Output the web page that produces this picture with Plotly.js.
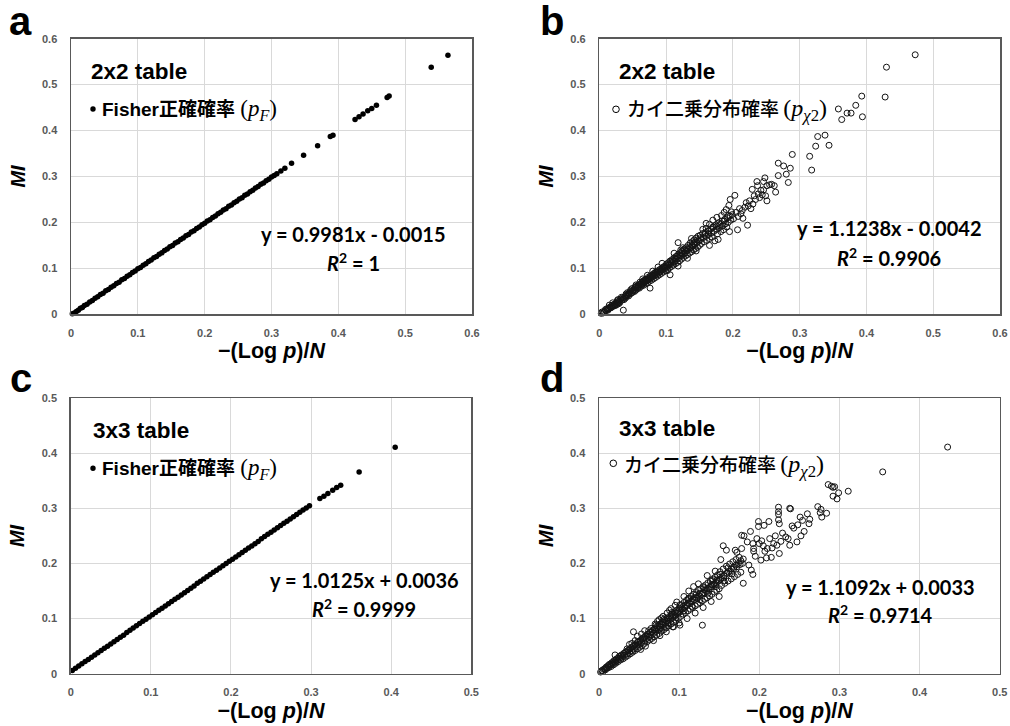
<!DOCTYPE html>
<html><head><meta charset="utf-8">
<script src="https://cdn.plot.ly/plotly-3.0.1.min.js"></script>
<style>html,body{margin:0;padding:0;background:#fff}#chart{width:1010px;height:726px}</style>
</head><body><div id="chart"></div>
<script>
// ---------- data ----------
// Panel a: 2x2 table, Fisher exact probability
const aX = [0.002,0.005,0.008,0.011,0.014,0.017,0.020,
0.024,0.028,0.032,0.036,0.040,0.044,0.048,0.052,0.056,0.060,
0.064,0.068,0.072,0.076,0.080,0.084,0.088,0.092,0.096,0.100,
0.104,0.108,0.112,0.116,0.120,0.124,0.128,0.132,0.136,0.140,
0.144,0.148,0.152,0.156,0.160,0.164,0.168,0.172,0.176,0.180,
0.184,0.188,0.192,0.196,0.200,0.204,0.208,0.212,0.216,0.220,
0.224,0.228,0.232,0.236,0.240,0.244,0.248,0.252,0.256,0.260,
0.264,0.268,0.272,0.276,0.280,0.284,0.288,0.292,0.296,0.300,
0.304,0.308,
0.314,0.320,0.330,0.348,0.369,0.388,0.392,0.425,0.431,0.437,
0.444,0.450,0.457,0.473,0.476,0.539,0.564];
const aY = [0.001,0.003,0.006,0.009,0.013,0.015,0.019,
0.022,0.027,0.030,0.035,0.038,0.043,0.046,0.051,0.054,0.059,
0.062,0.067,0.070,0.075,0.078,0.083,0.086,0.091,0.094,0.099,
0.102,0.107,0.110,0.115,0.118,0.123,0.126,0.131,0.134,0.139,
0.142,0.147,0.150,0.155,0.158,0.163,0.166,0.171,0.174,0.179,
0.182,0.187,0.190,0.195,0.198,0.203,0.206,0.211,0.214,0.219,
0.222,0.227,0.230,0.235,0.238,0.243,0.246,0.251,0.254,0.259,
0.262,0.267,0.270,0.275,0.278,0.283,0.286,0.291,0.294,0.299,
0.302,0.306,
0.312,0.318,0.329,0.346,0.367,0.387,0.390,0.424,0.430,0.436,
0.443,0.448,0.455,0.472,0.475,0.538,0.564];

// Panel b: 2x2 table, chi-square probability
const bX = [0.003,0.006,0.008,0.010,0.012,0.013,0.015,0.016,0.018,0.019,
0.021,0.022,0.023,0.025,0.026,0.027,0.028,0.030,0.031,0.032,
0.015,0.020,0.028,0.036,
0.034,0.035,0.036,0.038,0.039,0.040,0.041,0.043,0.044,0.045,
0.046,0.047,0.048,0.050,0.050,0.052,0.053,0.054,0.055,0.056,
0.057,0.058,0.059,0.060,0.060,0.042,0.049,0.055,
0.062,0.063,0.064,0.065,0.066,0.067,0.068,0.069,0.070,0.071,
0.072,0.073,0.074,0.075,0.076,0.076,0.077,0.078,0.079,0.080,
0.081,0.082,0.083,0.084,0.085,0.086,0.087,0.088,0.089,0.090,
0.091,0.092,0.093,0.094,0.095,0.096,0.097,0.098,0.099,0.100,
0.065,0.072,0.080,0.088,0.094,
0.101,0.102,0.103,0.104,0.105,0.106,0.106,0.107,0.108,0.109,
0.110,0.111,0.112,0.113,0.114,0.115,0.116,0.117,0.118,0.119,
0.120,0.121,0.122,0.123,0.124,0.125,0.126,0.127,0.128,0.129,
0.130,0.131,0.132,0.133,0.134,0.135,0.136,0.137,0.138,0.139,
0.140,0.141,0.142,0.143,0.144,0.145,0.146,0.147,0.148,0.149,
0.150,0.112,0.125,0.138,0.118,0.132,0.145,0.118,
0.151,0.152,0.153,0.155,0.156,0.157,0.159,0.160,0.161,0.163,
0.164,0.165,0.167,0.168,0.169,0.171,0.172,0.173,0.175,0.176,
0.177,0.176,0.179,0.180,0.182,0.184,0.185,0.186,0.188,0.189,
0.190,0.192,0.193,0.195,0.197,0.196,0.155,0.160,0.165,0.170,
0.183,0.187,0.191,0.178,0.165,
0.199,0.201,0.203,0.196,0.194,0.205,0.207,0.208,0.210,0.212,
0.214,0.215,0.218,0.220,0.222,0.223,0.225,0.227,0.229,0.230,
0.232,0.234,0.236,0.237,0.238,0.240,0.242,0.244,0.246,0.246,
0.248,0.249,0.251,0.251,0.255,0.258,0.262,0.264,0.268,0.268,
0.276,0.280,0.283,0.286,0.289,0.315,0.318,0.327,0.324,0.338,
0.344,0.358,0.363,0.371,0.377,0.384,0.393,0.394,0.428,0.430,
0.473];
const bY = [0.002,0.003,0.006,0.008,0.011,0.009,0.013,0.016,0.015,0.019,
0.018,0.022,0.020,0.024,0.021,0.027,0.025,0.029,0.026,0.033,
0.020,0.025,0.032,0.009,
0.031,0.036,0.034,0.038,0.035,0.041,0.039,0.043,0.040,0.047,
0.044,0.050,0.046,0.052,0.048,0.055,0.050,0.058,0.053,0.061,
0.056,0.063,0.059,0.065,0.057,0.047,0.056,0.064,
0.066,0.061,0.070,0.067,0.063,0.074,0.071,0.066,0.076,0.073,
0.068,0.080,0.077,0.072,0.083,0.057,0.079,0.074,0.086,0.082,
0.077,0.089,0.085,0.080,0.092,0.087,0.083,0.095,0.090,0.086,
0.098,0.094,0.089,0.101,0.097,0.092,0.104,0.100,0.095,0.108,
0.077,0.085,0.094,0.103,0.111,
0.103,0.098,0.112,0.107,0.101,0.086,0.116,0.110,0.104,0.119,
0.113,0.107,0.123,0.116,0.110,0.126,0.120,0.113,0.130,0.123,
0.116,0.134,0.127,0.120,0.138,0.131,0.124,0.142,0.134,0.127,
0.145,0.138,0.130,0.150,0.141,0.133,0.155,0.145,0.136,0.158,
0.149,0.140,0.162,0.152,0.143,0.166,0.156,0.146,0.170,0.159,
0.150,0.133,0.145,0.165,0.105,0.122,0.138,0.156,
0.172,0.163,0.154,0.176,0.167,0.158,0.178,0.170,0.161,0.182,
0.174,0.165,0.186,0.177,0.168,0.190,0.181,0.160,0.195,0.185,
0.175,0.211,0.199,0.189,0.180,0.203,0.193,0.184,0.207,0.197,
0.228,0.210,0.200,0.180,0.205,0.214,0.185,0.198,0.196,0.205,
0.215,0.222,0.190,0.163,0.150,
0.217,0.208,0.259,0.250,0.237,0.222,0.184,0.213,0.230,0.219,
0.226,0.209,0.233,0.243,0.194,0.236,0.247,0.230,0.272,0.240,
0.258,0.250,0.289,0.280,0.262,0.254,0.270,0.260,0.289,0.271,
0.297,0.258,0.247,0.280,0.282,0.283,0.280,0.266,0.302,0.329,
0.323,0.305,0.287,0.318,0.348,0.344,0.314,0.387,0.366,0.390,
0.368,0.447,0.424,0.438,0.438,0.455,0.475,0.430,0.473,0.538,
0.565];
// Panel b: additional points in the dense band
const bDenseX = [0.004,0.007,0.009,0.011,0.014,0.017,0.020,0.024,0.027,0.029,
0.033,0.037,0.040,0.044,0.047,0.051,0.054,0.058,0.061,0.064,
0.067,0.070,0.073,0.075,0.078,0.081,0.084,0.087,0.090,0.093,
0.096,0.099,0.103,0.107,0.110,0.114,0.117,0.121,0.124,0.128,
0.131,0.135,0.139,0.143,0.147,0.152,0.158,0.164,0.170,0.176,
0.181,0.187,0.193,0.198,0.066,0.084,0.102,0.122,0.141,0.160];
const bDenseY = [0.005,0.004,0.010,0.012,0.012,0.014,0.017,0.019,0.030,0.023,
0.037,0.032,0.044,0.045,0.053,0.051,0.060,0.060,0.070,0.064,
0.069,0.072,0.075,0.079,0.080,0.085,0.087,0.092,0.093,0.097,
0.102,0.104,0.108,0.114,0.117,0.121,0.127,0.129,0.133,0.139,
0.142,0.147,0.150,0.157,0.162,0.167,0.175,0.181,0.190,0.192,
0.196,0.203,0.215,0.223,0.072,0.091,0.095,0.140,0.153,0.187];

// Panel c: 3x3 table, Fisher exact probability
const cX = [0.002,0.006,0.010,0.014,0.018,0.022,0.026,0.030,0.034,0.038,
0.042,0.046,0.050,0.054,0.058,0.062,0.066,0.070,0.074,0.078,
0.082,0.086,0.090,0.094,0.098,0.102,0.106,0.110,0.114,0.118,
0.122,0.126,0.130,0.134,0.138,0.142,0.146,0.150,0.154,0.158,
0.162,0.166,0.170,0.174,0.178,0.182,0.186,0.190,0.194,0.198,
0.202,0.206,0.210,0.214,0.218,0.222,0.226,0.230,0.234,0.238,
0.242,0.246,0.250,0.254,0.258,0.262,0.266,0.270,0.274,0.278,
0.282,0.286,0.290,0.294,0.298,
0.311,0.316,0.321,0.327,0.332,0.337,0.360,0.405];
const cY = [0.006,0.010,0.014,0.018,0.022,0.026,0.030,0.034,0.038,0.042,
0.046,0.050,0.054,0.058,0.062,0.066,0.070,0.075,0.079,0.083,
0.087,0.091,0.095,0.099,0.103,0.107,0.111,0.115,0.119,0.123,
0.127,0.131,0.135,0.139,0.143,0.147,0.151,0.155,0.159,0.164,
0.168,0.172,0.176,0.180,0.184,0.188,0.192,0.196,0.200,0.204,
0.208,0.212,0.216,0.220,0.224,0.228,0.232,0.236,0.240,0.245,
0.249,0.253,0.257,0.261,0.265,0.269,0.273,0.277,0.281,0.285,
0.289,0.293,0.297,0.301,0.305,
0.318,0.322,0.327,0.333,0.338,0.342,0.366,0.411];

// Panel d: 3x3 table, chi-square probability
const dX = [0.002,0.004,0.005,0.007,0.008,0.009,0.010,0.011,0.012,0.013,
0.014,0.015,0.016,0.017,0.018,0.019,0.020,0.021,0.022,0.023,
0.024,0.025,0.026,0.027,0.028,0.029,0.030,0.020,
0.031,0.032,0.033,0.034,0.035,0.036,0.037,0.038,0.039,0.040,
0.041,0.042,0.043,0.044,0.045,0.046,0.047,0.048,0.049,0.050,
0.051,0.052,0.053,0.054,0.055,0.056,0.057,0.058,0.059,0.060,
0.043,0.048,0.053,0.057,0.038,0.045,0.052,0.058,0.035,0.041,
0.061,0.062,0.063,0.064,0.065,0.066,0.067,0.068,0.069,0.070,
0.071,0.072,0.073,0.074,0.075,0.076,0.077,0.078,0.079,0.080,
0.081,0.082,0.083,0.084,0.085,0.086,0.087,0.088,0.089,0.090,
0.091,0.092,0.093,0.094,0.095,0.096,0.097,0.098,0.099,0.100,
0.065,0.070,0.075,0.080,0.085,0.090,0.095,0.068,0.076,0.084,
0.092,0.100,0.062,0.078,0.088,0.097,0.073,0.083,0.093,0.101,
0.101,0.102,0.103,0.104,0.105,0.106,0.107,0.108,0.109,0.110,
0.111,0.112,0.113,0.114,0.115,0.116,0.117,0.118,0.119,0.120,
0.121,0.122,0.123,0.124,0.125,0.126,0.127,0.128,0.129,0.130,
0.131,0.132,0.133,0.134,0.135,0.136,0.137,0.138,0.139,0.140,
0.141,0.142,0.143,0.144,0.145,0.146,0.147,0.148,0.149,0.150,
0.129,0.106,0.112,0.118,0.124,0.110,0.120,0.130,0.140,0.150,
0.135,0.145,
0.151,0.152,0.153,0.155,0.156,0.157,0.159,0.160,0.161,0.163,
0.164,0.165,0.167,0.168,0.169,0.171,0.172,0.173,0.175,0.176,
0.177,0.155,0.159,0.152,0.170,0.172,0.178,0.179,0.180,0.178,
0.181,0.185,0.187,0.189,0.190,0.192,0.192,0.193,0.193,0.195,
0.197,0.199,0.199,0.200,0.202,
0.203,0.205,0.206,0.207,0.209,0.210,0.212,0.213,0.215,0.216,
0.218,0.220,0.222,0.224,0.224,0.224,0.224,0.225,0.225,0.227,
0.229,0.233,0.236,0.238,0.239,0.238,0.241,0.243,0.247,0.248,
0.251,0.252,0.254,0.256,0.260,0.262,0.263,0.273,0.277,0.276,
0.278,0.284,0.286,0.290,0.292,0.294,0.292,0.297,0.299,0.311,
0.354,0.435];
const dY = [0.003,0.006,0.004,0.009,0.007,0.012,0.010,0.014,0.011,0.017,
0.015,0.013,0.020,0.018,0.016,0.024,0.021,0.019,0.027,0.024,
0.022,0.031,0.028,0.025,0.034,0.030,0.027,0.034,
0.037,0.033,0.030,0.040,0.036,0.033,0.043,0.039,0.036,0.047,
0.042,0.039,0.050,0.046,0.042,0.054,0.049,0.045,0.058,0.053,
0.048,0.061,0.056,0.051,0.065,0.060,0.055,0.068,0.063,0.058,
0.076,0.068,0.072,0.078,0.053,0.060,0.044,0.050,0.045,0.055,
0.072,0.066,0.061,0.075,0.070,0.064,0.079,0.073,0.067,0.083,
0.077,0.070,0.086,0.080,0.073,0.090,0.084,0.077,0.094,0.088,
0.080,0.097,0.091,0.083,0.101,0.095,0.087,0.104,0.098,0.090,
0.108,0.102,0.093,0.112,0.105,0.097,0.115,0.109,0.100,0.119,
0.082,0.090,0.098,0.104,0.110,0.118,0.124,0.060,0.069,0.076,
0.085,0.092,0.078,0.101,0.115,0.130,0.095,0.086,0.085,0.088,
0.112,0.104,0.125,0.117,0.108,0.129,0.120,0.111,0.133,0.124,
0.114,0.137,0.127,0.117,0.140,0.131,0.120,0.144,0.134,0.123,
0.147,0.137,0.126,0.151,0.141,0.129,0.154,0.144,0.132,0.158,
0.147,0.135,0.161,0.151,0.138,0.165,0.154,0.141,0.168,0.158,
0.144,0.172,0.161,0.148,0.175,0.165,0.151,0.179,0.168,0.154,
0.088,0.140,0.150,0.158,0.163,0.100,0.110,0.120,0.131,0.140,
0.178,0.186,
0.185,0.172,0.160,0.190,0.177,0.164,0.195,0.182,0.168,0.199,
0.186,0.172,0.203,0.190,0.176,0.207,0.194,0.180,0.211,0.198,
0.184,0.232,0.224,0.207,0.224,0.220,0.227,0.200,0.164,0.251,
0.250,0.239,0.197,0.258,0.188,0.236,0.180,0.227,0.222,0.213,
0.245,0.267,0.276,0.236,0.206,
0.241,0.232,0.269,0.222,0.210,0.227,0.276,0.245,0.211,0.228,
0.236,0.250,0.233,0.302,0.294,0.289,0.279,0.272,0.218,0.240,
0.255,0.248,0.245,0.300,0.299,0.233,0.268,0.264,0.239,0.270,
0.284,0.250,0.278,0.258,0.290,0.272,0.280,0.303,0.298,0.292,
0.284,0.291,0.343,0.340,0.338,0.339,0.322,0.317,0.328,0.331,
0.366,0.411];
// Panel d: additional points in the dense band
const dDenseX = [0.003,0.006,0.009,0.012,0.015,0.018,0.021,0.024,0.027,0.030,
0.033,0.036,0.039,0.042,0.045,0.048,0.051,0.054,0.057,0.060,
0.063,0.066,0.069,0.072,0.075,0.078,0.081,0.084,0.087,0.090,
0.093,0.096,0.099,0.102,0.105,0.108,0.111,0.114,0.117,0.120,
0.123,0.126,0.129,0.132,0.135,0.138,0.141,0.144,0.147,0.150,
0.153,0.156,0.159,0.162,0.165,0.168,0.171,0.174,0.177,0.180,
0.071,0.081,0.091,0.101,0.111,0.121,0.131,0.141,0.151,0.161,
0.076,0.086,0.096,0.106,0.116,0.126,0.136,0.146,0.156,0.166];
const dDenseY = [0.005,0.008,0.010,0.015,0.018,0.022,0.025,0.028,0.032,0.034,
0.039,0.042,0.045,0.049,0.052,0.057,0.059,0.063,0.066,0.071,
0.068,0.076,0.081,0.082,0.086,0.090,0.093,0.096,0.099,0.105,
0.106,0.110,0.113,0.118,0.122,0.124,0.128,0.131,0.136,0.138,
0.140,0.146,0.146,0.152,0.154,0.157,0.161,0.163,0.170,0.170,
0.174,0.178,0.182,0.185,0.190,0.193,0.197,0.200,0.205,0.208,
0.088,0.099,0.111,0.125,0.135,0.143,0.156,0.169,0.180,0.192,
0.081,0.092,0.102,0.114,0.122,0.134,0.146,0.158,0.168,0.181];

const panelLetters = ['a','b','c','d'];
const tableLabels = ['2x2 table','2x2 table','3x3 table','3x3 table'];
const equations = ['y = 0.9981x - 0.0015','y = 1.1238x - 0.0042','y = 1.0125x + 0.0036','y = 1.1092x + 0.0033'];
const r2Values = ['1','0.9906','0.9999','0.9714'];
const axisMax = [0.6,0.6,0.5,0.5];

// ---------- layout helpers ----------
const W = 1010, H = 726;
const px = v => v / W;
const py = v => 1 - v / H;

// plot boxes in pixels: [left, right, top, bottom]
const boxes = [[71,472,38.7,314.3],[599.3,1000,38.7,314.3],[70.7,471.3,398.3,673.7],[599,999.7,398,673.7]];

const fisherText = 'Fisher正確確率 <span style="font-family:Liberation Serif;font-weight:normal;font-size:23px">(<i>p</i><sub><i>F</i></sub>)</span>';
const chiText = '<span style="font-weight:500">カイ二乗分布確率</span> <span style="font-family:Liberation Serif;font-weight:normal;font-size:24px">(<i>p</i><sub><i>χ</i>2</sub>)</span>';

const openMarker = {symbol:'circle-open', size:6, color:'#141414', line:{width:1}};
const traces = [
  {x:aX, y:aY, xaxis:'x', yaxis:'y', type:'scatter', mode:'markers', cliponaxis:false,
   marker:{symbol:'circle', size:5.5, color:'#000'}},
  {x:bX.concat(bDenseX), y:bY.concat(bDenseY), xaxis:'x2', yaxis:'y2', type:'scatter', mode:'markers', cliponaxis:false,
   marker:openMarker},
  {x:cX, y:cY, xaxis:'x3', yaxis:'y3', type:'scatter', mode:'markers', cliponaxis:false,
   marker:{symbol:'circle', size:5.5, color:'#000'}},
  {x:dX.concat(dDenseX), y:dY.concat(dDenseY), xaxis:'x4', yaxis:'y4', type:'scatter', mode:'markers', cliponaxis:false,
   marker:openMarker}
];

const tickFont = {family:'Liberation Sans, Arial, sans-serif', size:11, color:'#595959', weight:'bold'};
const layout = {
  width:W, height:H, margin:{l:0,r:0,t:0,b:0}, showlegend:false,
  paper_bgcolor:'#fff', plot_bgcolor:'#fff',
  font:{family:'Liberation Sans, Arial, sans-serif', color:'#000'},
  annotations:[], shapes:[]
};

const suffix = ['', '2', '3', '4'];
boxes.forEach((b, i) => {
  const s = suffix[i];
  layout['xaxis' + s] = {
    domain:[px(b[0]), px(b[1])], anchor:'y' + s, range:[0, axisMax[i]], dtick:0.1, tick0:0,
    showline:true, mirror:true, linecolor:'#595959', linewidth:1.5,
    showgrid:true, gridcolor:'#d9d9d9', gridwidth:1, zeroline:false, ticks:'',
    tickfont:tickFont, ticklabelstandoff:8, automargin:false,
    title:{text:'−(Log <i>p</i>)/<i>N</i>', standoff:5,
      font:{family:'Liberation Sans, Arial, sans-serif', size:21.5, weight:'bold', color:'#000'}}
  };
  layout['yaxis' + s] = {
    domain:[py(b[3]), py(b[2])], anchor:'x' + s, range:[0, axisMax[i]], dtick:0.1, tick0:0,
    showline:true, mirror:true, linecolor:'#595959', linewidth:1.5,
    showgrid:true, gridcolor:'#d9d9d9', gridwidth:1, zeroline:false, ticks:'',
    tickfont:tickFont, ticklabelstandoff:10, automargin:false,
    title:{text:'<i>MI</i>', standoff:11,
      font:{family:'Liberation Sans, Arial, sans-serif', size:20, weight:'bold', color:'#000'}}
  };
});

// annotation pixel positions
const letterPos = [[20,21],[552,21],[21,378],[552,378]];
const tablePos = [[88.5,71],[616.5,71],[91,431],[616.5,428.3]];
const legendTextPos = [[99.5,110],[624.5,110],[99.5,469],[622,465]];
const legendMarkPos = [[93,109],[616,109.3],[93,468.3],[613.3,463.3]];
const eqPos = [[353,234,262],[889,228.3,256.6],[364,580,608],[880,586.6,614]];

for (let i = 0; i < 4; i++) {
  layout.annotations.push({
    text:panelLetters[i], xref:'paper', yref:'paper', x:px(letterPos[i][0]), y:py(letterPos[i][1]),
    xanchor:'center', yanchor:'middle', showarrow:false,
    font:{family:'Liberation Sans, Arial, sans-serif', size:40, weight:'bold', color:'#000'}
  });
  layout.annotations.push({
    text:tableLabels[i], xref:'paper', yref:'paper', x:px(tablePos[i][0]), y:py(tablePos[i][1]),
    xanchor:'left', yanchor:'middle', showarrow:false,
    font:{family:'Liberation Sans, Arial, sans-serif', size:22.5, weight:'bold', color:'#000'}
  });
  const isFisher = (i % 2 === 0);
  layout.annotations.push({
    text: isFisher ? fisherText : chiText, xref:'paper', yref:'paper',
    x:px(legendTextPos[i][0]), y:py(legendTextPos[i][1]),
    xanchor:'left', yanchor:'middle', showarrow:false,
    font: isFisher
      ? {family:'Liberation Sans, Noto Sans CJK JP, sans-serif', size:19, weight:'bold', color:'#000'}
      : {family:'Noto Sans CJK JP, sans-serif', size:19, weight:'normal', color:'#000'}
  });
  const r = isFisher ? 2.7 : 3.3;
  const m = legendMarkPos[i];
  layout.shapes.push({
    type:'circle', xref:'paper', yref:'paper', x0:px(m[0]-r), x1:px(m[0]+r), y0:py(m[1]+r), y1:py(m[1]-r),
    fillcolor: isFisher ? '#000' : 'rgba(0,0,0,0)', line:{color:'#000', width: isFisher ? 0 : 1}
  });
  layout.annotations.push({
    text:equations[i], xref:'paper', yref:'paper', x:px(eqPos[i][0]), y:py(eqPos[i][1]),
    xanchor:'center', yanchor:'middle', showarrow:false,
    font:{family:'Lato, Liberation Sans, sans-serif', size:20, weight:'bold', color:'#000'}
  });
  layout.annotations.push({
    text:'<i>R</i><sup>2</sup> = ' + r2Values[i], xref:'paper', yref:'paper', x:px(eqPos[i][0]), y:py(eqPos[i][2]),
    xanchor:'center', yanchor:'middle', showarrow:false,
    font:{family:'Lato, Liberation Sans, sans-serif', size:20, weight:'bold', color:'#000'}
  });
}

Plotly.newPlot('chart', traces, layout, {staticPlot:true, displayModeBar:false});
</script></body></html>
